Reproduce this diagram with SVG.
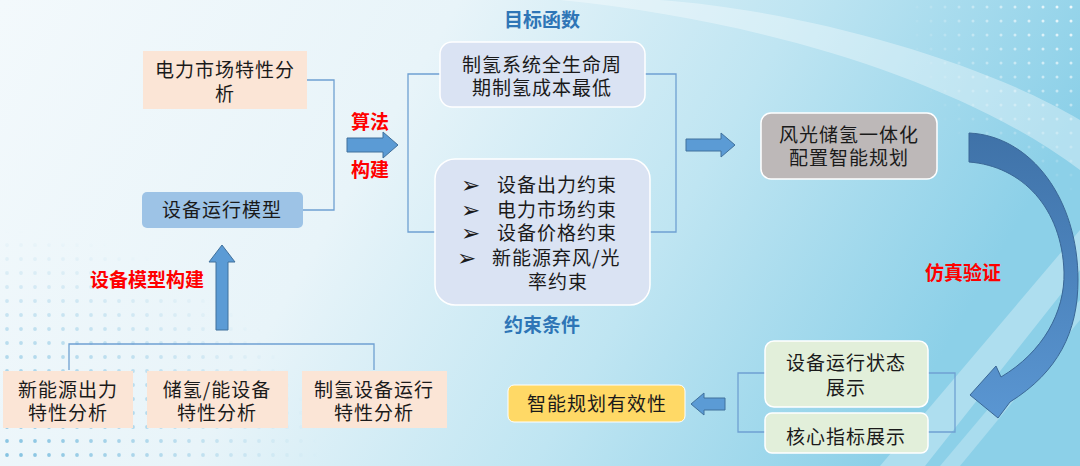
<svg xmlns="http://www.w3.org/2000/svg" width="1080" height="466" viewBox="0 0 1080 466">
<defs>
<linearGradient id="bg" x1="0" y1="0" x2="1" y2="0.25">
<stop offset="0" stop-color="#F3F9FC"/>
<stop offset="0.4" stop-color="#E8F4F9"/>
<stop offset="0.7" stop-color="#BFE5F2"/>
<stop offset="1" stop-color="#8CD0E8"/>
</linearGradient>
<linearGradient id="curveFill" x1="0" y1="0" x2="0" y2="1">
<stop offset="0" stop-color="#3F72A8"/>
<stop offset="1" stop-color="#5A96D2"/>
</linearGradient>
<pattern id="dotsW" width="14" height="14" patternUnits="userSpaceOnUse">
<circle cx="7" cy="7" r="1.5" fill="#FFFFFF"/>
</pattern>
<pattern id="dotsB" width="14" height="14" patternUnits="userSpaceOnUse">
<circle cx="7" cy="7" r="1.9" fill="#7FC0E0"/>
</pattern>
<radialGradient id="fadeTR" cx="1" cy="0" r="1">
<stop offset="0" stop-color="#fff" stop-opacity="0.9"/>
<stop offset="1" stop-color="#fff" stop-opacity="0"/>
</radialGradient>
<radialGradient id="fadeBL" cx="0" cy="1" r="1">
<stop offset="0" stop-color="#fff" stop-opacity="1"/>
<stop offset="1" stop-color="#fff" stop-opacity="0"/>
</radialGradient>
<mask id="mTR"><rect x="900" y="0" width="180" height="200" fill="url(#fadeTR)"/></mask>
<mask id="mBL"><rect x="0" y="230" width="320" height="236" fill="url(#fadeBL)"/></mask>
<style>
.t{font-family:"Noto Sans CJK SC","Noto Sans",sans-serif;font-size:19px;letter-spacing:1px;fill:#1A1A1A;text-anchor:middle}
.s{text-anchor:start}
.red{font-family:"Noto Sans CJK SC",sans-serif;font-size:19px;font-weight:bold;fill:#FF0000;text-anchor:middle}
.blue{font-family:"Noto Sans CJK SC",sans-serif;font-size:19px;font-weight:bold;fill:#2E75B6;text-anchor:middle}
.bul{font-family:"DejaVu Sans",sans-serif;font-size:23px;fill:#1A1A1A}
.peach{fill:#FBE5D6}
.lav{fill:#DAE3F3;stroke:#FFFFFF;stroke-width:1.5}
.green{fill:#E2EFDA;stroke:#FFFFFF;stroke-width:1.5}
.line{fill:none;stroke:#6FA0D2;stroke-width:1.3}
.barrow{fill:#5B9BD5;stroke:#41719C;stroke-width:1}
</style>
</defs>

<!-- background -->
<rect width="1080" height="466" fill="url(#bg)"/>
<path d="M560,0 C760,20 960,80 1080,170 L1080,120 C980,60 800,10 660,0 Z" fill="#FFFFFF" opacity="0.35"/>
<path d="M880,466 L1080,230 L1080,270 L925,466 Z" fill="#FFFFFF" opacity="0.3"/>
<path d="M940,466 L1080,300 L1080,320 L960,466 Z" fill="#FFFFFF" opacity="0.25"/>
<rect x="900" y="0" width="180" height="200" fill="url(#dotsW)" mask="url(#mTR)"/>
<rect x="0" y="230" width="320" height="236" fill="url(#dotsB)" mask="url(#mBL)"/>

<!-- connectors -->
<g id="connectors">
<path class="line" d="M307,80 H334 V210 H303"/>
<path class="line" d="M440,74 H408 V232 H435"/>
<path class="line" d="M645,74 H676 V232 H650"/>
<path class="line" d="M69,370 V344 H374 V370"/>
<path class="line" d="M765,373 H738 V432 H765"/>
<path class="line" d="M928,373 H955 V432 H928"/>
<path class="barrow" d="M347,138 H383 V132 L398,145 L383,158 V152 H347 Z"/>
<path class="barrow" d="M686,139 H721 V133 L735,145 L721,157 V151 H686 Z"/>
<path class="barrow" d="M216,330 V262 H209 L222,245 L235,262 H228 V330 Z"/>
<path class="barrow" d="M725,398 H704 V393 L691,404 L704,415 V410 H725 Z"/>
<path d="M969,133 C1032,136 1078,200 1078,280 C1078,332 1058,372 1010,402 L998,418 L970,395 L996,366 L1001,377 C1043,352 1065,312 1064,272 C1062,208 1022,166 969,162 Z" fill="url(#curveFill)" stroke="#3A6796" stroke-width="1"/>
</g>

<!-- labels -->
<text class="red" x="370" y="129">算法</text>
<text class="red" x="370" y="177">构建</text>
<text class="blue" x="542" y="27">目标函数</text>
<text class="blue" x="542" y="332">约束条件</text>
<text class="red" x="963" y="280">仿真验证</text>
<text class="red" x="147" y="287">设备模型构建</text>

<!-- nodes -->
<g id="power-market">
<rect class="peach" x="143" y="51" width="164" height="58"/>
<text class="t" x="225" y="77">电力市场特性分<tspan x="225" dy="24">析</tspan></text>
</g>
<g id="equipment-model">
<rect x="142" y="192" width="161" height="36" rx="5" fill="#9DC3E6"/>
<text class="t" x="222" y="217">设备运行模型</text>
</g>
<g id="objective">
<rect class="lav" x="440" y="42" width="205" height="65" rx="12"/>
<text class="t" x="542" y="72">制氢系统全生命周<tspan x="542" dy="23">期制氢成本最低</tspan></text>
</g>
<g id="constraints">
<rect class="lav" x="435" y="159" width="215" height="146" rx="20"/>
<text class="bul" x="461" y="193">➢<tspan x="461" dy="25">➢</tspan><tspan x="461" dy="23">➢</tspan><tspan x="457" dy="25">➢</tspan></text>
<text class="t s" x="497" y="192">设备出力约束<tspan x="497" dy="25">电力市场约束</tspan><tspan x="497" dy="23">设备价格约束</tspan><tspan x="492" dy="25">新能源弃风/光</tspan><tspan x="528" dy="24">率约束</tspan></text>
</g>
<g id="integrated-planning">
<rect x="761" y="113" width="176" height="66" rx="10" fill="#BDB8B8" stroke="#FFFFFF" stroke-width="1.5"/>
<text class="t" x="849" y="142">风光储氢一体化<tspan x="849" dy="23">配置智能规划</tspan></text>
</g>
<g id="new-energy">
<rect class="peach" x="3" y="371" width="130" height="57"/>
<text class="t" x="68" y="397">新能源出力<tspan x="68" dy="23">特性分析</tspan></text>
</g>
<g id="storage">
<rect class="peach" x="147" y="371" width="141" height="57"/>
<text class="t" x="217" y="397">储氢/能设备<tspan x="217" dy="23">特性分析</tspan></text>
</g>
<g id="h2-production">
<rect class="peach" x="302" y="371" width="145" height="57"/>
<text class="t" x="374" y="397">制氢设备运行<tspan x="374" dy="23">特性分析</tspan></text>
</g>
<g id="status-display">
<rect class="green" x="765" y="341" width="163" height="66" rx="9"/>
<text class="t" x="846" y="370">设备运行状态<tspan x="846" dy="25">展示</tspan></text>
</g>
<g id="kpi-display">
<rect class="green" x="765" y="413" width="163" height="40" rx="7"/>
<text class="t" x="846" y="444">核心指标展示</text>
</g>
<g id="effectiveness">
<rect x="508" y="385" width="177" height="37" rx="6" fill="#FFD966" stroke="#FFFFFF" stroke-width="1"/>
<text class="t" x="597" y="411">智能规划有效性</text>
</g>
</svg>
